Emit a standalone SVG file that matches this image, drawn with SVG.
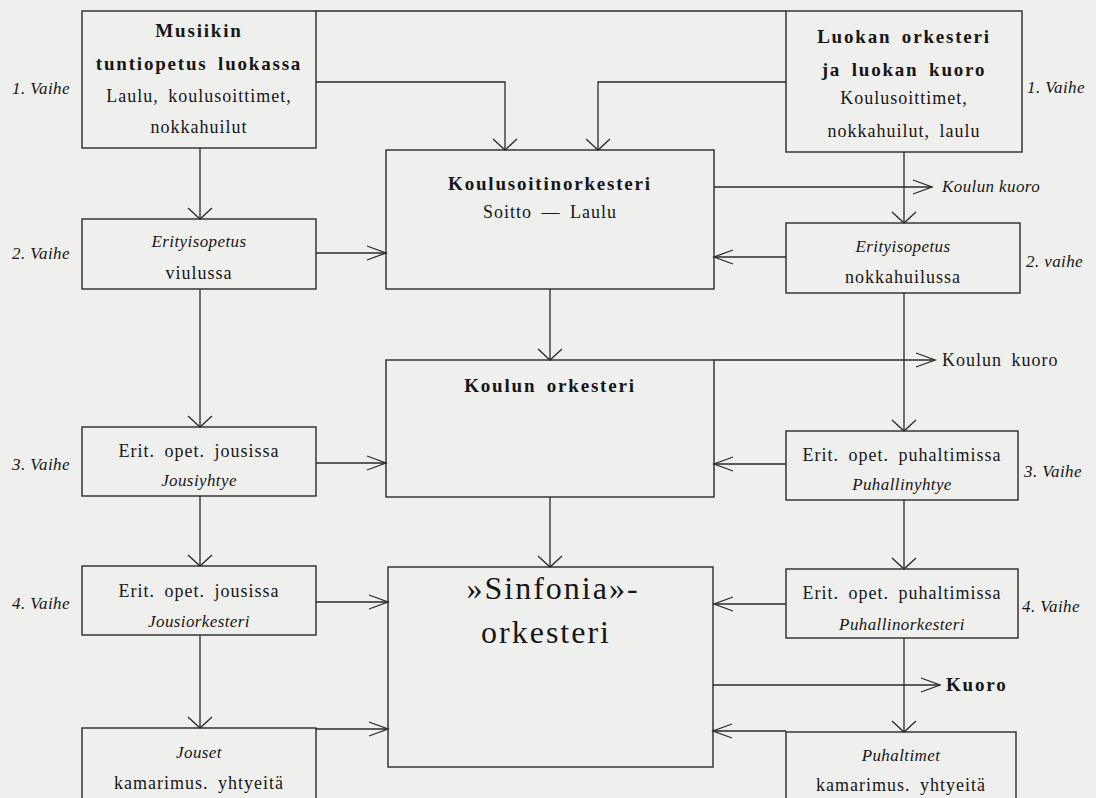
<svg xmlns="http://www.w3.org/2000/svg" width="1096" height="798" viewBox="0 0 1096 798">
<defs>
<style>
.bg{fill:#efefed}
.box{fill:none;stroke:#2a2a2a;stroke-width:1.4}
.ln{fill:none;stroke:#2a2a2a;stroke-width:1.3}
text{font-family:"Liberation Serif","DejaVu Serif",serif;fill:#161616;text-anchor:middle}
.t{font-size:18px;letter-spacing:1px;word-spacing:4px}
.b{font-size:19px;font-weight:bold;letter-spacing:1.8px;word-spacing:4px}
.i{font-size:17px;font-style:italic;letter-spacing:0.4px;word-spacing:2px}
.lab{font-size:17px;font-style:italic;letter-spacing:0.4px;text-anchor:start}
.big{font-size:32px;letter-spacing:2px}
</style>
<marker id="av" markerUnits="userSpaceOnUse" markerWidth="30" markerHeight="30" viewBox="-15 -15 30 30" refX="0" refY="0" orient="auto" overflow="visible">
<path d="M-11,-12 L0,0 L-11,12" fill="none" stroke="#2a2a2a" stroke-width="1.3"/>
</marker>
<marker id="ah" markerUnits="userSpaceOnUse" markerWidth="30" markerHeight="30" viewBox="-15 -15 30 30" refX="0" refY="0" orient="auto" overflow="visible">
<path d="M-19,-7 L0,0 L-19,7" fill="none" stroke="#2a2a2a" stroke-width="1.3"/>
</marker>
</defs>
<rect class="bg" x="0" y="0" width="1096" height="798"/>

<g id="connectors">
<line class="ln" x1="316" y1="11" x2="786" y2="11"/>
<polyline class="ln" points="316,82 505,82 505,150" marker-end="url(#av)"/>
<polyline class="ln" points="786,82 598,82 598,150" marker-end="url(#av)"/>
<line class="ln" x1="200" y1="148" x2="200" y2="219" marker-end="url(#av)"/>
<line class="ln" x1="904" y1="152" x2="904" y2="223" marker-end="url(#av)"/>
<line class="ln" x1="714" y1="187" x2="932" y2="187" marker-end="url(#ah)"/>
<line class="ln" x1="316" y1="253" x2="386" y2="253" marker-end="url(#ah)"/>
<line class="ln" x1="786" y1="257" x2="714" y2="257" marker-end="url(#ah)"/>
<line class="ln" x1="550" y1="289" x2="550" y2="360" marker-end="url(#av)"/>
<line class="ln" x1="200" y1="289" x2="200" y2="427" marker-end="url(#av)"/>
<line class="ln" x1="904" y1="293" x2="904" y2="431" marker-end="url(#av)"/>
<line class="ln" x1="714" y1="360" x2="935" y2="360" marker-end="url(#ah)"/>
<line class="ln" x1="316" y1="463" x2="386" y2="463" marker-end="url(#ah)"/>
<line class="ln" x1="786" y1="464" x2="714" y2="464" marker-end="url(#ah)"/>
<line class="ln" x1="550" y1="497" x2="550" y2="567" marker-end="url(#av)"/>
<line class="ln" x1="200" y1="496" x2="200" y2="566" marker-end="url(#av)"/>
<line class="ln" x1="904" y1="500" x2="904" y2="569" marker-end="url(#av)"/>
<line class="ln" x1="316" y1="602" x2="388" y2="602" marker-end="url(#ah)"/>
<line class="ln" x1="786" y1="604" x2="714" y2="604" marker-end="url(#ah)"/>
<line class="ln" x1="200" y1="635" x2="200" y2="728" marker-end="url(#av)"/>
<line class="ln" x1="904" y1="638" x2="904" y2="732" marker-end="url(#av)"/>
<line class="ln" x1="713" y1="685" x2="940" y2="685" marker-end="url(#ah)"/>
<line class="ln" x1="316" y1="729" x2="388" y2="729" marker-end="url(#ah)"/>
<line class="ln" x1="786" y1="731" x2="713" y2="731" marker-end="url(#ah)"/>
</g>

<g id="labels">
<text class="lab" x="12" y="94">1. Vaihe</text>
<text class="lab" x="12" y="259">2. Vaihe</text>
<text class="lab" x="12" y="470">3. Vaihe</text>
<text class="lab" x="12" y="609">4. Vaihe</text>
<text class="lab" x="1027" y="93">1. Vaihe</text>
<text class="lab" x="1026" y="267">2. vaihe</text>
<text class="lab" x="1024" y="477">3. Vaihe</text>
<text class="lab" x="1022" y="612">4. Vaihe</text>
<text class="lab" x="942" y="192">Koulun kuoro</text>
<text class="t" x="942" y="366" style="text-anchor:start">Koulun kuoro</text>
<text class="b" x="946" y="691" style="text-anchor:start">Kuoro</text>
</g>

<g id="nodeA">
<rect class="box" x="82" y="11" width="234" height="137"/>
<text class="b" x="199" y="37">Musiikin</text>
<text class="b" x="199" y="70">tuntiopetus luokassa</text>
<text class="t" x="199" y="102">Laulu, koulusoittimet,</text>
<text class="t" x="199" y="133">nokkahuilut</text>
</g>
<g id="nodeA2">
<rect class="box" x="82" y="219" width="234" height="70"/>
<text class="i" x="199" y="247">Erityisopetus</text>
<text class="t" x="199" y="279">viulussa</text>
</g>
<g id="nodeA3">
<rect class="box" x="82" y="427" width="234" height="69"/>
<text class="t" x="199" y="457">Erit. opet. jousissa</text>
<text class="i" x="199" y="486">Jousiyhtye</text>
</g>
<g id="nodeA4">
<rect class="box" x="82" y="566" width="234" height="69"/>
<text class="t" x="199" y="597">Erit. opet. jousissa</text>
<text class="i" x="199" y="627">Jousiorkesteri</text>
</g>
<g id="nodeA5">
<rect class="box" x="82" y="728" width="234" height="80"/>
<text class="i" x="199" y="758">Jouset</text>
<text class="t" x="199" y="789">kamarimus. yhtyeitä</text>
</g>

<g id="nodeB">
<rect class="box" x="386" y="150" width="328" height="139"/>
<text class="b" x="550" y="190">Koulusoitinorkesteri</text>
<text class="t" x="550" y="218">Soitto — Laulu</text>
</g>
<g id="nodeC">
<rect class="box" x="386" y="360" width="328" height="137"/>
<text class="b" x="550" y="392">Koulun orkesteri</text>
</g>
<g id="nodeD">
<rect class="box" x="388" y="567" width="325" height="200"/>
<text class="big" x="553" y="599">»Sinfonia»-</text>
<text class="big" x="546" y="643">orkesteri</text>
</g>

<g id="nodeC1">
<rect class="box" x="786" y="11" width="236" height="141"/>
<text class="b" x="904" y="43">Luokan orkesteri</text>
<text class="b" x="904" y="76">ja luokan kuoro</text>
<text class="t" x="904" y="104">Koulusoittimet,</text>
<text class="t" x="904" y="137">nokkahuilut, laulu</text>
</g>
<g id="nodeC2">
<rect class="box" x="786" y="223" width="234" height="70"/>
<text class="i" x="903" y="252">Erityisopetus</text>
<text class="t" x="903" y="283">nokkahuilussa</text>
</g>
<g id="nodeC3">
<rect class="box" x="786" y="431" width="232" height="69"/>
<text class="t" x="902" y="461">Erit. opet. puhaltimissa</text>
<text class="i" x="902" y="490">Puhallinyhtye</text>
</g>
<g id="nodeC4">
<rect class="box" x="786" y="569" width="232" height="69"/>
<text class="t" x="902" y="599">Erit. opet. puhaltimissa</text>
<text class="i" x="902" y="630">Puhallinorkesteri</text>
</g>
<g id="nodeC5">
<rect class="box" x="786" y="732" width="230" height="76"/>
<text class="i" x="901" y="761">Puhaltimet</text>
<text class="t" x="901" y="791">kamarimus. yhtyeitä</text>
</g>
</svg>
